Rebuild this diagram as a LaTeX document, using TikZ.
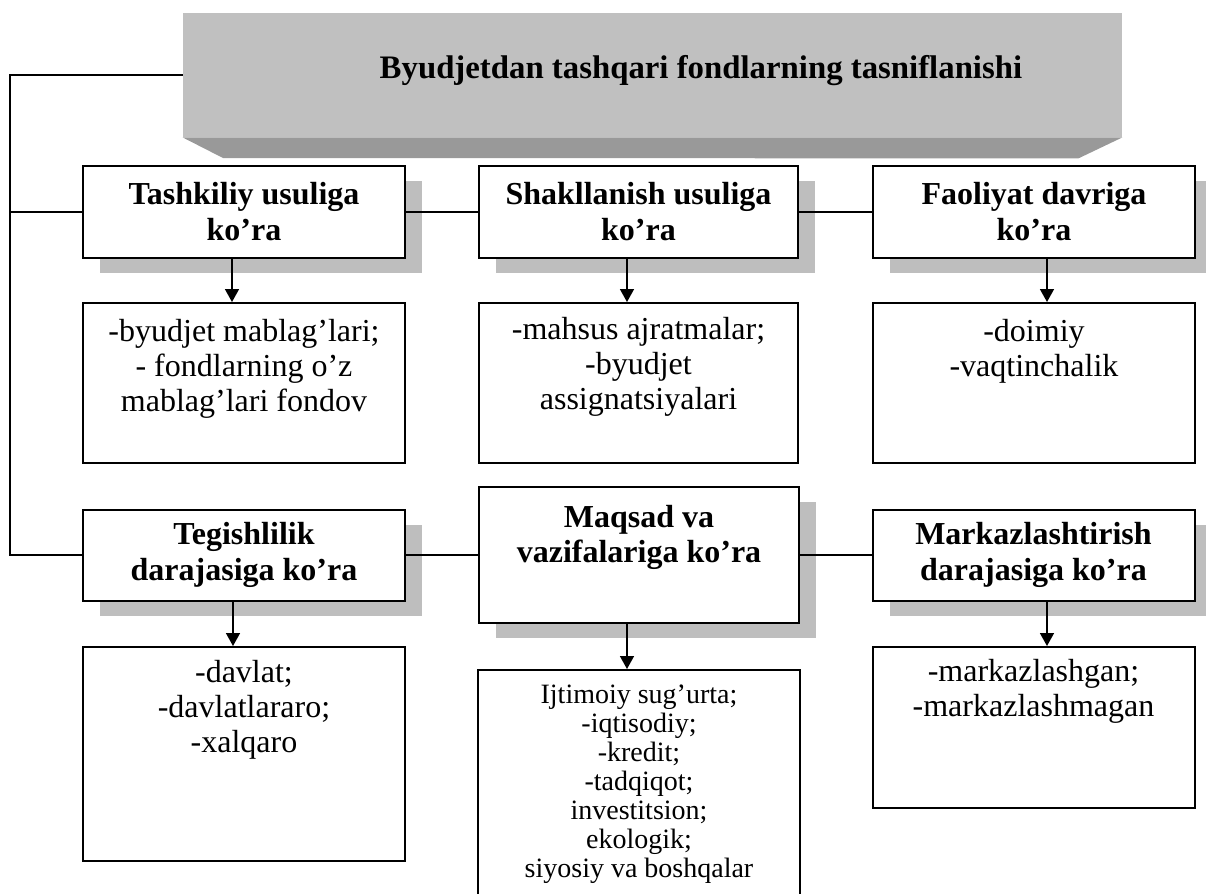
\documentclass[tikz,border=0pt]{standalone}
\usepackage{fontspec}
\setmainfont{Liberation Serif}
\usetikzlibrary{positioning,shadows,arrows.meta}

\definecolor{titlegray}{RGB}{192,192,192}
\definecolor{bevelgray}{RGB}{153,153,153}
\definecolor{shadowgray}{RGB}{190,190,190}

\begin{document}
\begin{tikzpicture}[x=0.5pt,y=-0.5pt,
        title node/.style={fill=titlegray,minimum width=469.5pt,minimum height=62pt,inner sep=0pt},
        head node/.style={draw,line width=1pt,fill=white,align=center,inner sep=0pt,
            font=\bfseries\fontsize{16}{18}\selectfont,minimum width=161pt,minimum height=46pt,
            drop shadow={shadow xshift=8.5pt,shadow yshift=-7.5pt,fill=shadowgray,opacity=1}},
        list node/.style={draw,line width=1pt,fill=white,minimum width=161pt,inner sep=0pt},
        list text/.style={align=center,inner sep=0pt,font=\fontsize{16}{17.5}\selectfont},
        link/.style={line width=0.8pt},
        arrow/.style={line width=0.8pt,-{Triangle[width=7pt,length=6.5pt]}},
        ]
    \useasboundingbox (0,0) rectangle (1206,894);
    \clip (0,0) rectangle (1206,894);

    % title block
    \node[title node] (title) at (652.5,75) {};
    \fill[bevelgray] (title.south west) -- (title.south east) -- ++(-44,21) -- (223,158) -- cycle;
    \node[font=\bfseries\fontsize{16.4}{19}\selectfont,inner sep=0pt] (titletext) at (701,71)
        {Byudjetdan tashqari fondlarning tasniflanishi};

    % first row
    \node[head node] (tk) at (244,212) {Tashkiliy usuliga\\ko’ra};
    \node[head node,minimum width=159.5pt] (sh) at (638.5,212) {Shakllanish usuliga\\ko’ra};
    \node[head node] (fa) at (1034,212) {Faoliyat davriga\\ko’ra};

    \node[list node,minimum height=80pt] (l1) at (244,383) {};
    \node[list node,minimum height=80pt,minimum width=159.5pt] (l2) at (638.5,383) {};
    \node[list node,minimum height=80pt] (l3) at (1034,383) {};
    \node[list text,below=8.5pt of l1.north] (t1) {-byudjet mablag’lari;\\- fondlarning o’z\\mablag’lari fondov};
    \node[list text,below=7.5pt of l2.north] (t2) {-mahsus ajratmalar;\\-byudjet\\assignatsiyalari};
    \node[list text,below=8.5pt of l3.north] (t3) {-doimiy\\-vaqtinchalik};

    % second row
    \node[head node,minimum height=45.5pt] (tg) at (244,555) {Tegishlilik\\darajasiga ko’ra};
    \node[head node,minimum width=160pt,minimum height=68pt,font=\bfseries\fontsize{16}{17.5}\selectfont]
        (mq) at (639,555) {Maqsad va\\vazifalariga ko’ra\\[4pt]~};
    \node[head node,minimum height=45.5pt] (mk) at (1033.5,555) {Markazlashtirish\\darajasiga ko’ra};

    \node[list node,minimum height=107pt] (l4) at (244,754) {};
    \node[list node,minimum height=120pt] (l5) at (639,790) {};
    \node[list node,minimum height=80.5pt] (l6) at (1033.5,727.5) {};
    \node[list text,below=7pt of l4.north] (t4) {-davlat;\\-davlatlararo;\\-xalqaro};
    \node[list text,below=7.5pt of l5.north,font=\fontsize{14}{14.5}\selectfont] (t5)
        {Ijtimoiy sug’urta;\\-iqtisodiy;\\-kredit;\\-tadqiqot;\\investitsion;\\ekologik;\\siyosiy va boshqalar};
    \node[list text,below=6.5pt of l6.north] (t6) {-markazlashgan;\\-markazlashmagan};

    % connectors
    \coordinate (bend1) at (10,75);
    \coordinate (bend2) at (10,555);
    \draw[link] (title.west) -- (bend1) -- (bend2) -- (tg.west);
    \draw[link] (bend1 |- tk.west) -- (tk.west);
    \draw[link] (tk.east) -- (sh.west);
    \draw[link] (sh.east) -- (fa.west);
    \draw[link] (tg.east) -- (mq.west);
    \draw[link] (mq.east) -- (mk.west);

    \draw[arrow] ([xshift=-6pt]tk.south) -- ([xshift=-6pt]l1.north);
    \draw[arrow] ([xshift=-5.75pt]sh.south) -- ([xshift=-5.75pt]l2.north);
    \draw[arrow] ([xshift=6.5pt]fa.south) -- ([xshift=6.5pt]l3.north);
    \draw[arrow] ([xshift=-5.5pt]tg.south) -- ([xshift=-5.5pt]l4.north);
    \draw[arrow] ([xshift=-6pt]mq.south) -- ([xshift=-6pt]l5.north);
    \draw[arrow] ([xshift=6.75pt]mk.south) -- ([xshift=6.75pt]l6.north);
\end{tikzpicture}
\end{document}
